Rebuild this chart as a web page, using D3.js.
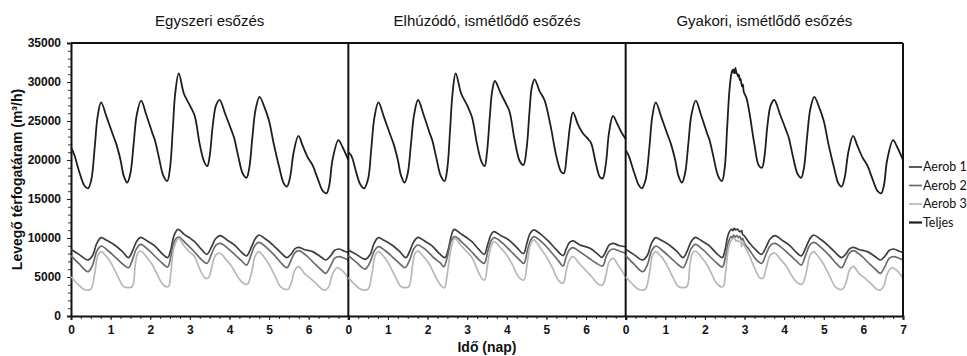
<!DOCTYPE html>
<html>
<head>
<meta charset="utf-8">
<script src="https://cdn.jsdelivr.net/npm/d3@7/dist/d3.min.js"></script>
<style>
  body { margin: 0; background: #fff; }
  svg { display: block; }
  .tick text { font-family: "Liberation Sans", Arial, sans-serif; font-weight: bold; font-size: 12px; fill: #111; }
</style>
</head>
<body>
<div id="chart"></div>
<script>
// panel titles
const panelTitles = ['Egyszeri esőzés', 'Elhúzódó, ismétlődő esőzés', 'Gyakori, ismétlődő esőzés'];
const seriesNames = ['Aerob 1', 'Aerob 2', 'Aerob 3', 'Teljes'];
const yTicks = [0, 5000, 10000, 15000, 20000, 25000, 30000, 35000];

// [day, m3/h] knots
// --- panel 1: Egyszeri esőzés
const p1Teljes = [[0,21600],[0.08,20700],[0.22,18300],[0.34,16700],[0.43,16370],[0.51,17400],[0.6,21700],[0.67,25500],[0.76,27400],[0.9,25500],[1.06,23200],[1.14,22100],[1.25,20000],[1.33,18000],[1.42,17100],[1.5,18300],[1.58,22000],[1.66,25800],[1.77,27600],[1.9,25800],[2.05,23500],[2.12,22500],[2.22,20300],[2.33,18000],[2.43,17300],[2.5,19000],[2.57,24000],[2.63,28500],[2.72,31100],[2.85,28500],[3.0,27000],[3.12,25700],[3.25,22000],[3.36,19800],[3.44,19230],[3.5,20500],[3.58,24500],[3.66,27000],[3.75,27700],[3.9,25800],[4.05,23800],[4.12,22800],[4.22,20500],[4.34,18200],[4.43,17730],[4.5,19000],[4.58,23000],[4.66,26500],[4.76,28100],[4.88,26800],[5.0,25000],[5.12,22000],[5.25,19200],[5.37,17000],[5.45,16580],[5.53,17800],[5.62,21000],[5.74,23100],[5.85,21800],[5.98,20300],[6.1,19300],[6.22,17700],[6.36,16000],[6.45,15730],[6.52,16800],[6.6,20000],[6.75,22560],[6.85,21700],[7.0,20000]];
const p1Aerob1 = [[0,8550],[0.2,7900],[0.43,7180],[0.55,7800],[0.65,9300],[0.76,10040],[0.9,9700],[1.1,9100],[1.3,8250],[1.45,7480],[1.55,8300],[1.65,9500],[1.755,10080],[1.9,9700],[2.1,9050],[2.3,8000],[2.44,7480],[2.52,8500],[2.6,10300],[2.7,11110],[2.85,10500],[3.0,10000],[3.12,9530],[3.3,8500],[3.43,7910],[3.55,8900],[3.65,9900],[3.77,10300],[3.95,9700],[4.15,9000],[4.3,8200],[4.43,7700],[4.55,8800],[4.65,9900],[4.74,10380],[4.9,9900],[5.1,9100],[5.3,8100],[5.45,7480],[5.55,7900],[5.65,8600],[5.74,8800],[5.9,8500],[6.1,8250],[6.3,7600],[6.43,7180],[6.55,7700],[6.65,8400],[6.77,8590],[6.9,8300],[7.0,8160]];
const p1Aerob2 = [[0,7740],[0.2,6700],[0.43,5680],[0.55,6600],[0.65,8300],[0.76,8970],[0.95,8300],[1.15,7400],[1.32,6600],[1.45,6190],[1.55,7200],[1.65,8600],[1.76,9180],[1.95,8500],[2.15,7500],[2.32,6700],[2.44,6280],[2.52,7600],[2.62,9700],[2.72,10130],[2.9,9300],[3.1,8300],[3.3,7200],[3.43,6750],[3.55,8000],[3.66,9100],[3.77,9310],[3.95,8700],[4.15,7800],[4.32,7000],[4.43,6530],[4.55,7900],[4.65,9100],[4.75,9440],[4.95,8700],[5.15,7700],[5.32,6700],[5.45,6190],[5.55,7100],[5.65,8100],[5.75,8380],[5.95,7700],[6.15,6700],[6.32,5900],[6.43,5470],[6.55,6400],[6.65,7400],[6.77,7610],[6.9,7400],[7.0,7180]];
const p1Aerob3 = [[0,5040],[0.15,4200],[0.3,3500],[0.38,3330],[0.5,3450],[0.6,5500],[0.68,7800],[0.76,8250],[0.88,7700],[1.0,6900],[1.1,5900],[1.22,4700],[1.32,3800],[1.45,3630],[1.55,3800],[1.62,6500],[1.68,8000],[1.76,8330],[1.9,7600],[2.05,6600],[2.15,5600],[2.28,4300],[2.38,3800],[2.46,3760],[2.52,5500],[2.6,8800],[2.72,9960],[2.85,9000],[3.0,8200],[3.12,7610],[3.25,6000],[3.38,4900],[3.46,4830],[3.55,6200],[3.65,7800],[3.77,8040],[3.9,7300],[4.05,6400],[4.2,5100],[4.35,4200],[4.45,4060],[4.55,5400],[4.65,7700],[4.74,8250],[4.88,7500],[5.0,6600],[5.15,5100],[5.3,3700],[5.47,3420],[5.57,4400],[5.65,5900],[5.75,6320],[5.9,5400],[6.05,4800],[6.2,4100],[6.35,3400],[6.43,3330],[6.52,3900],[6.6,5400],[6.72,6190],[6.85,5800],[7.0,4900]];

// --- panel 2: Elhúzódó, ismétlődő esőzés
const p2Teljes = [[0,21000],[0.08,20500],[0.2,18400],[0.3,16900],[0.4,16370],[0.5,17600],[0.58,21500],[0.66,25500],[0.76,27400],[0.9,25500],[1.06,23200],[1.14,22100],[1.25,20000],[1.33,18000],[1.42,17100],[1.5,18300],[1.58,22000],[1.66,25800],[1.76,27690],[1.9,25800],[2.05,23500],[2.12,22500],[2.22,20300],[2.33,18000],[2.43,17300],[2.5,19000],[2.57,24000],[2.63,28500],[2.71,31110],[2.85,28500],[3.0,27000],[3.12,25500],[3.25,22000],[3.36,19800],[3.44,19230],[3.5,21000],[3.57,25500],[3.63,28800],[3.7,30130],[3.85,28500],[4.0,27000],[4.07,26190],[4.2,22500],[4.33,19800],[4.42,19360],[4.5,21500],[4.57,26000],[4.63,29300],[4.7,30340],[4.83,28800],[4.95,27690],[5.1,24500],[5.25,20500],[5.37,18500],[5.44,18290],[5.52,21000],[5.6,24500],[5.67,26110],[5.8,24500],[5.92,23420],[6.05,22700],[6.13,22140],[6.25,19500],[6.35,17800],[6.42,17650],[6.5,19500],[6.58,23500],[6.68,25640],[6.8,24500],[6.9,23500],[7.0,22700]];
const p2Aerob1 = [[0,8470],[0.2,7900],[0.43,7270],[0.55,7900],[0.65,9300],[0.76,10040],[0.9,9700],[1.1,9100],[1.3,8250],[1.45,7480],[1.55,8300],[1.65,9500],[1.755,10080],[1.9,9700],[2.1,9050],[2.3,8000],[2.44,7480],[2.52,8500],[2.6,10300],[2.67,11110],[2.85,10500],[3.0,10000],[3.12,9530],[3.3,8500],[3.43,7910],[3.52,9200],[3.6,10400],[3.67,10810],[3.85,10300],[4.05,9750],[4.25,8800],[4.42,8000],[4.5,9200],[4.58,10500],[4.68,11030],[4.85,10500],[5.05,9600],[5.25,8500],[5.42,7740],[5.5,8600],[5.58,9400],[5.67,9620],[5.85,9100],[6.1,8680],[6.3,7900],[6.4,7520],[6.5,8300],[6.58,9100],[6.68,9310],[6.85,9000],[7.0,8890]];
const p2Aerob2 = [[0,7740],[0.2,6900],[0.42,6020],[0.55,6900],[0.65,8300],[0.76,8890],[0.95,8300],[1.15,7400],[1.32,6600],[1.43,6190],[1.55,7200],[1.65,8600],[1.75,9100],[1.95,8500],[2.15,7500],[2.32,6800],[2.41,6320],[2.5,7600],[2.6,9700],[2.69,10170],[2.9,9300],[3.1,8300],[3.3,7200],[3.43,6750],[3.52,8300],[3.6,9600],[3.68,10040],[3.9,9300],[4.1,8300],[4.3,7300],[4.43,6750],[4.52,8400],[4.6,9700],[4.68,10170],[4.9,9400],[5.1,8300],[5.3,7100],[5.42,6410],[5.5,7600],[5.58,8500],[5.67,8760],[5.85,8200],[6.05,7500],[6.25,6800],[6.42,6410],[6.5,7500],[6.58,8300],[6.68,8590],[6.85,8300],[7.0,8040]];
const p2Aerob3 = [[0,4920],[0.15,4100],[0.3,3450],[0.38,3330],[0.5,3450],[0.6,5500],[0.68,7800],[0.76,8250],[0.88,7700],[1.0,6900],[1.1,5900],[1.22,4700],[1.32,3800],[1.43,3630],[1.53,3800],[1.62,6500],[1.68,8000],[1.75,8330],[1.9,7600],[2.05,6600],[2.15,5600],[2.28,4300],[2.38,3700],[2.43,3630],[2.5,5500],[2.6,8800],[2.69,9960],[2.85,9000],[3.0,8200],[3.12,7500],[3.25,6000],[3.38,4750],[3.44,4620],[3.52,6800],[3.6,8900],[3.68,9530],[3.85,8700],[4.0,7800],[4.15,6500],[4.3,5000],[4.43,4620],[4.52,7000],[4.6,9200],[4.68,9750],[4.85,8700],[5.0,7600],[5.15,6200],[5.3,4600],[5.42,4190],[5.5,5800],[5.58,7200],[5.67,7610],[5.85,6600],[6.0,5800],[6.15,5000],[6.3,4100],[6.42,3970],[6.5,5200],[6.58,6900],[6.68,7400],[6.8,6600],[7.0,5040]];

// --- panel 3: Gyakori, ismétlődő esőzés
const p3Teljes = [[0,21300],[0.08,20500],[0.22,18300],[0.34,16700],[0.41,16370],[0.5,17400],[0.6,21700],[0.67,25500],[0.76,27400],[0.9,25500],[1.06,23200],[1.14,22100],[1.25,20000],[1.33,18000],[1.42,17100],[1.5,18300],[1.58,22000],[1.66,25800],[1.77,27600],[1.9,25800],[2.05,23500],[2.12,22500],[2.22,20300],[2.33,18000],[2.43,17300],[2.5,19000],[2.56,24000],[2.62,28970],[2.67,31110],[2.7,31540],[2.72,31200],[2.73,31630],[2.75,31100],[2.77,31800],[2.8,31110],[2.82,31000],[2.84,30680],[2.86,30900],[2.88,30250],[2.9,30400],[2.92,29830],[2.94,29400],[2.96,29700],[2.98,28760],[3.05,27910],[3.12,26190],[3.25,22000],[3.36,19300],[3.44,19010],[3.5,20300],[3.58,24500],[3.66,27000],[3.75,27690],[3.9,25800],[4.05,23800],[4.12,22800],[4.22,20500],[4.34,18200],[4.43,17730],[4.5,19000],[4.58,23000],[4.66,26500],[4.76,28100],[4.88,26800],[5.0,25000],[5.12,22000],[5.25,19200],[5.37,17000],[5.45,16580],[5.53,17800],[5.62,21000],[5.74,23100],[5.85,21800],[5.98,20300],[6.1,19300],[6.22,17700],[6.36,16000],[6.45,15730],[6.52,16800],[6.6,20000],[6.75,22560],[6.85,21700],[7.0,20000]];
const p3Aerob1 = [[0,8550],[0.2,7900],[0.43,7180],[0.55,7800],[0.65,9300],[0.76,10040],[0.9,9700],[1.1,9100],[1.3,8250],[1.45,7480],[1.55,8300],[1.65,9500],[1.755,10080],[1.9,9700],[2.1,9050],[2.3,8000],[2.44,7480],[2.5,8300],[2.58,10300],[2.64,11000],[2.68,11110],[2.71,10950],[2.74,11240],[2.78,11030],[2.82,11150],[2.86,10900],[2.9,10810],[2.93,10950],[2.95,10470],[2.99,10300],[3.12,9400],[3.3,8400],[3.43,7910],[3.55,8900],[3.65,9900],[3.77,10300],[3.95,9700],[4.15,9000],[4.3,8200],[4.43,7700],[4.55,8800],[4.65,9900],[4.74,10380],[4.9,9900],[5.1,9100],[5.3,8100],[5.45,7480],[5.55,7900],[5.65,8600],[5.74,8800],[5.9,8500],[6.1,8250],[6.3,7600],[6.43,7180],[6.55,7700],[6.65,8400],[6.77,8590],[6.9,8300],[7.0,8160]];
const p3Aerob2 = [[0,7740],[0.2,6700],[0.43,5680],[0.55,6600],[0.65,8300],[0.76,8970],[0.95,8300],[1.15,7400],[1.32,6600],[1.45,6190],[1.55,7200],[1.65,8600],[1.76,9180],[1.95,8500],[2.15,7500],[2.32,6700],[2.44,6280],[2.52,7600],[2.6,9600],[2.66,10170],[2.7,10000],[2.72,10380],[2.76,10120],[2.8,10300],[2.85,10040],[2.88,10200],[2.92,9750],[2.95,9950],[3.0,9300],[3.12,8500],[3.3,7200],[3.43,6750],[3.55,8000],[3.66,9100],[3.77,9310],[3.95,8700],[4.15,7800],[4.32,7000],[4.43,6530],[4.55,7900],[4.65,9100],[4.75,9440],[4.95,8700],[5.15,7700],[5.32,6700],[5.45,6190],[5.55,7100],[5.65,8100],[5.75,8380],[5.95,7700],[6.15,6700],[6.32,5900],[6.43,5470],[6.55,6400],[6.65,7400],[6.77,7610],[6.9,7400],[7.0,7180]];
const p3Aerob3 = [[0,5040],[0.15,4200],[0.3,3500],[0.38,3330],[0.5,3450],[0.6,5500],[0.68,7800],[0.76,8250],[0.88,7700],[1.0,6900],[1.1,5900],[1.22,4700],[1.32,3800],[1.45,3630],[1.55,3800],[1.62,6500],[1.68,8000],[1.76,8330],[1.9,7600],[2.05,6600],[2.15,5600],[2.28,4300],[2.38,3800],[2.46,3760],[2.52,5500],[2.6,8800],[2.68,9820],[2.75,9950],[2.78,9600],[2.82,9700],[2.86,9520],[2.9,9530],[2.93,8890],[2.96,9500],[2.99,9050],[3.1,8000],[3.25,6200],[3.38,4900],[3.46,4830],[3.55,6200],[3.65,7800],[3.77,8040],[3.9,7300],[4.05,6400],[4.2,5100],[4.35,4200],[4.45,4060],[4.55,5400],[4.65,7700],[4.74,8250],[4.88,7500],[5.0,6600],[5.15,5100],[5.3,3700],[5.47,3420],[5.57,4400],[5.65,5900],[5.75,6320],[5.9,5400],[6.05,4800],[6.2,4100],[6.35,3400],[6.43,3330],[6.52,3900],[6.6,5400],[6.72,6190],[6.85,5800],[7.0,4900]];

const panels = [
  {title: panelTitles[0], series: [p1Aerob1, p1Aerob2, p1Aerob3, p1Teljes], ticks: [0,1,2,3,4,5,6]},
  {title: panelTitles[1], series: [p2Aerob1, p2Aerob2, p2Aerob3, p2Teljes], ticks: [0,1,2,3,4,5,6]},
  {title: panelTitles[2], series: [p3Aerob1, p3Aerob2, p3Aerob3, p3Teljes], ticks: [0,1,2,3,4,5,6,7]}
];

const colors = ['#3d3d3d', '#6b6b6b', '#b8b8b8', '#1e1e1e'];
const widths = [1.7, 1.7, 1.7, 1.8];

const W = 967, H = 356;
const margin = {top: 43, right: 64, bottom: 40, left: 71};
const plotW = W - margin.left - margin.right;
const plotH = H - margin.top - margin.bottom;
const panelW = plotW / 3;

const svg = d3.select('#chart').append('svg')
  .attr('width', W)
  .attr('height', H);

const g = svg.append('g')
  .attr('transform', 'translate(' + margin.left + ',' + margin.top + ')');

const yScale = d3.scaleLinear().domain([0, 35000]).range([plotH, 0]);

// minor y ticks
g.append('g')
  .call(d3.axisLeft(yScale).tickValues(d3.range(0, 35001, 1000)).tickSize(3).tickFormat(''))
  .call(a => a.select('.domain').remove())
  .selectAll('line').attr('stroke', '#333');
// major y ticks
g.append('g')
  .attr('class', 'y axis')
  .call(d3.axisLeft(yScale).tickValues(yTicks).tickSize(4).tickPadding(6).tickFormat(d3.format('d')))
  .call(a => a.select('.domain').attr('stroke', '#111').attr('stroke-width', 2))
  .call(a => a.selectAll('.tick line').attr('stroke', '#222'));

panels.forEach((p, i) => {
  const x0 = i * panelW;
  const xScale = d3.scaleLinear().domain([0, 7]).range([x0, x0 + panelW]);

  // minor x ticks
  g.append('g')
    .attr('transform', 'translate(0,' + plotH + ')')
    .call(d3.axisBottom(xScale).tickValues(d3.range(0, 7.01, 0.25)).tickSize(3).tickFormat(''))
    .call(a => a.select('.domain').remove())
    .selectAll('line').attr('stroke', '#333');
  // major x ticks
  g.append('g')
    .attr('class', 'x axis')
    .attr('transform', 'translate(0,' + plotH + ')')
    .call(d3.axisBottom(xScale).tickValues(p.ticks).tickSize(4).tickPadding(5).tickFormat(d3.format('d')))
    .call(a => a.select('.domain').attr('stroke', '#111').attr('stroke-width', 2))
    .call(a => a.selectAll('.tick line').attr('stroke', '#222'));

  const line = d3.line()
    .x(d => xScale(d[0]))
    .y(d => yScale(d[1]))
    .curve(d3.curveCatmullRom.alpha(0.5));

  p.series.forEach((s, k) => {
    g.append('path')
      .datum(s)
      .attr('fill', 'none')
      .attr('stroke', colors[k])
      .attr('stroke-width', widths[k])
      .attr('stroke-linejoin', 'round')
      .attr('d', line);
  });

  // panel title
  svg.append('text')
    .attr('x', margin.left + x0 + panelW / 2)
    .attr('y', 26)
    .attr('text-anchor', 'middle')
    .style('font-family', '"Liberation Sans", Arial, sans-serif')
    .style('font-size', '15px')
    .style('fill', '#111')
    .text(p.title);

  // right border of the panel
  g.append('line')
    .attr('x1', x0 + panelW).attr('x2', x0 + panelW)
    .attr('y1', 0).attr('y2', plotH)
    .attr('stroke', '#111')
    .attr('stroke-width', 2);
});

// top border
g.append('line')
  .attr('x1', 0).attr('x2', plotW)
  .attr('y1', 0).attr('y2', 0)
  .attr('stroke', '#111')
  .attr('stroke-width', 2);

// axis labels
svg.append('text')
  .attr('transform', 'rotate(-90)')
  .attr('x', -(margin.top + plotH / 2))
  .attr('y', 22)
  .attr('text-anchor', 'middle')
  .style('font-family', '"Liberation Sans", Arial, sans-serif')
  .style('font-weight', 'bold')
  .style('font-size', '14px')
  .style('fill', '#111')
  .text('Levegő térfogatáram (m³/h)');

svg.append('text')
  .attr('x', margin.left + plotW / 2)
  .attr('y', 352)
  .attr('text-anchor', 'middle')
  .style('font-family', '"Liberation Sans", Arial, sans-serif')
  .style('font-weight', 'bold')
  .style('font-size', '14px')
  .style('fill', '#111')
  .text('Idő (nap)');

// legend
const legend = svg.append('g')
  .attr('transform', 'translate(' + (margin.left + plotW + 6) + ',167)');
seriesNames.forEach((name, k) => {
  const row = legend.append('g').attr('transform', 'translate(0,' + (k * 18.5) + ')');
  row.append('line')
    .attr('x1', 0).attr('x2', 13)
    .attr('stroke', colors[k])
    .attr('stroke-width', k === 3 ? 2.2 : 1.7);
  row.append('text')
    .attr('x', 14)
    .attr('dy', '0.35em')
    .style('font-family', 'Lato, "Open Sans", sans-serif')
    .style('font-size', '12.5px')
    .style('fill', '#111')
    .text(name);
});
</script>
</body>
</html>
